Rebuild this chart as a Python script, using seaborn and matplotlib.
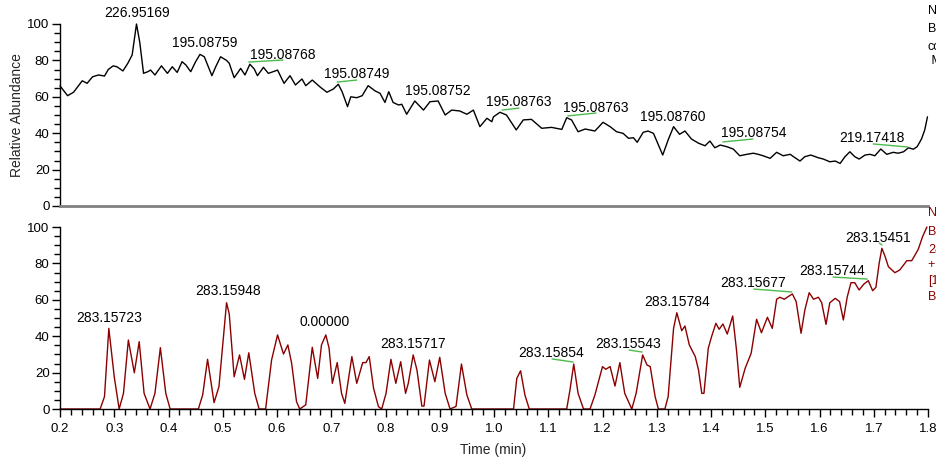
import numpy as np
import pandas as pd
import matplotlib
matplotlib.use("Agg")
import matplotlib.pyplot as plt
from matplotlib.ticker import MultipleLocator
import seaborn as sns

# ---------------- data ----------------
top_time = [0.200, 0.214, 0.225, 0.241, 0.250, 0.260, 0.271, 0.282, 0.289, 0.298,
            0.305, 0.316, 0.325, 0.333, 0.341, 0.347, 0.354, 0.362, 0.367, 0.375,
            0.387, 0.398, 0.407, 0.416, 0.425, 0.432, 0.441, 0.450, 0.458, 0.466,
            0.480, 0.487, 0.496, 0.507, 0.512, 0.521, 0.528, 0.533, 0.541, 0.550,
            0.558, 0.564, 0.575, 0.584, 0.593, 0.601, 0.613, 0.624, 0.634, 0.646,
            0.653, 0.665, 0.679, 0.692, 0.704, 0.713, 0.720, 0.730, 0.736, 0.747,
            0.757, 0.768, 0.781, 0.790, 0.799, 0.806, 0.814, 0.824, 0.830, 0.839,
            0.854, 0.870, 0.882, 0.897, 0.910, 0.922, 0.937, 0.950, 0.962, 0.974,
            0.987, 0.996, 0.999, 1.011, 1.023, 1.041, 1.054, 1.069, 1.088, 1.106,
            1.125, 1.134, 1.143, 1.155, 1.168, 1.186, 1.201, 1.214, 1.226, 1.238,
            1.248, 1.257, 1.264, 1.275, 1.284, 1.294, 1.311, 1.321, 1.331, 1.342,
            1.352, 1.364, 1.377, 1.389, 1.398, 1.407, 1.417, 1.429, 1.441, 1.453,
            1.466, 1.478, 1.487, 1.496, 1.509, 1.521, 1.533, 1.546, 1.552, 1.564,
            1.573, 1.584, 1.598, 1.607, 1.619, 1.629, 1.638, 1.647, 1.656, 1.665,
            1.673, 1.684, 1.693, 1.702, 1.713, 1.724, 1.736, 1.745, 1.755, 1.764,
            1.773, 1.780, 1.788, 1.794, 1.799]
top_abund = [66.0, 60.6, 62.5, 68.8, 67.4, 71.0, 72.0, 71.4, 75.0, 77.0,
             76.5, 74.2, 78.4, 83.0, 100.0, 90.0, 72.9, 73.8, 74.7, 72.0,
             77.0, 72.9, 76.5, 73.4, 79.3, 77.5, 73.8, 79.3, 83.3, 82.0,
             71.6, 76.5, 82.0, 80.0, 78.4, 70.5, 73.4, 75.6, 72.0, 77.9,
             75.3, 71.6, 76.2, 72.9, 73.8, 74.7, 67.4, 71.6, 66.5, 69.8,
             66.1, 69.2, 65.5, 62.5, 64.3, 66.9, 62.8, 54.6, 60.0, 59.5,
             60.6, 66.1, 63.2, 61.9, 56.9, 62.8, 56.9, 55.5, 55.9, 50.4,
             57.7, 52.7, 57.3, 57.7, 50.0, 52.7, 52.2, 50.4, 52.7, 43.6,
             48.2, 46.3, 49.0, 51.5, 50.0, 41.8, 47.3, 47.6, 42.7, 43.2,
             42.1, 48.5, 47.3, 40.8, 42.3, 41.2, 46.0, 43.6, 40.8, 39.9,
             37.2, 37.5, 35.0, 40.5, 41.2, 39.9, 28.0, 36.3, 43.6, 39.4,
             41.2, 36.8, 34.5, 33.1, 35.7, 32.0, 33.5, 32.6, 31.3, 27.6,
             28.4, 29.0, 28.4, 27.6, 26.2, 29.5, 27.6, 28.4, 27.1, 24.7,
             27.1, 28.0, 26.5, 25.8, 24.3, 24.7, 23.4, 27.1, 29.8, 27.1,
             25.8, 28.0, 28.4, 27.6, 31.3, 28.4, 29.5, 29.0, 29.8, 32.0,
             31.2, 32.6, 36.8, 41.8, 49.0]

bot_time = [0.200, 0.274, 0.282, 0.290, 0.300, 0.309, 0.317, 0.326, 0.337, 0.346,
            0.355, 0.366, 0.375, 0.385, 0.395, 0.403, 0.455, 0.463, 0.472, 0.484,
            0.493, 0.507, 0.512, 0.521, 0.531, 0.540, 0.548, 0.559, 0.567, 0.579,
            0.590, 0.601, 0.612, 0.620, 0.627, 0.636, 0.642, 0.653, 0.665, 0.675,
            0.682, 0.690, 0.696, 0.702, 0.711, 0.719, 0.725, 0.738, 0.747, 0.758,
            0.764, 0.770, 0.778, 0.787, 0.793, 0.801, 0.810, 0.819, 0.828, 0.837,
            0.842, 0.851, 0.858, 0.867, 0.871, 0.881, 0.891, 0.900, 0.910, 0.919,
            0.930, 0.940, 0.950, 0.959, 1.036, 1.042, 1.049, 1.057, 1.065, 1.134,
            1.140, 1.147, 1.155, 1.165, 1.177, 1.186, 1.200, 1.206, 1.214, 1.223,
            1.232, 1.241, 1.254, 1.262, 1.274, 1.282, 1.288, 1.297, 1.303, 1.315,
            1.321, 1.331, 1.337, 1.346, 1.352, 1.360, 1.371, 1.377, 1.383, 1.387,
            1.395, 1.401, 1.409, 1.415, 1.422, 1.430, 1.440, 1.447, 1.453, 1.463,
            1.474, 1.484, 1.493, 1.504, 1.513, 1.521, 1.527, 1.535, 1.542, 1.550,
            1.557, 1.566, 1.573, 1.581, 1.589, 1.598, 1.604, 1.612, 1.619, 1.629,
            1.637, 1.644, 1.651, 1.658, 1.665, 1.673, 1.682, 1.690, 1.698, 1.704,
            1.710, 1.715, 1.721, 1.727, 1.739, 1.748, 1.761, 1.770, 1.782, 1.790,
            1.798]
bot_abund = [0.0, 0.0, 6.8, 44.3, 17.7, 0.0, 8.6, 37.9, 19.9, 37.0,
             8.6, 0.0, 8.6, 33.7, 8.6, 0.0, 0.0, 7.7, 27.3, 3.5,
             12.3, 58.4, 52.2, 17.7, 29.7, 16.3, 30.9, 8.6, 0.0, 0.0,
             26.9, 40.7, 30.2, 35.2, 25.1, 4.0, 0.0, 2.3, 33.9, 16.8,
             35.2, 40.7, 33.4, 14.1, 25.5, 8.6, 3.1, 28.8, 14.1, 25.5,
             25.5, 28.8, 11.4, 1.3, 0.0, 8.6, 27.3, 14.1, 26.0, 8.6,
             14.1, 29.7, 21.4, 1.6, 1.6, 26.9, 15.0, 28.4, 8.6, 0.0,
             1.4, 24.7, 7.7, 0.0, 0.0, 16.8, 21.0, 7.7, 0.0, 0.0,
             10.4, 24.7, 8.6, 0.0, 0.0, 7.7, 23.3, 21.8, 23.3, 12.6,
             25.5, 8.6, 0.0, 8.6, 29.7, 24.2, 23.3, 6.8, 0.0, 0.0,
             6.8, 44.3, 52.9, 43.0, 45.6, 35.2, 28.8, 21.4, 8.6, 8.6,
             33.4, 39.7, 47.1, 43.8, 46.7, 41.2, 51.1, 32.4, 11.9, 22.4,
             30.6, 49.3, 41.9, 50.4, 44.3, 60.3, 61.4, 60.3, 61.7, 63.2,
             59.0, 41.6, 54.4, 63.9, 60.3, 61.4, 58.4, 46.5, 58.4, 60.8,
             59.0, 48.9, 61.4, 69.4, 69.4, 65.4, 68.7, 70.5, 65.0, 66.9,
             80.1, 88.3, 83.7, 78.2, 74.9, 76.4, 81.5, 81.5, 87.7, 94.7,
             100.0]

top_labels = ["226.95169", "195.08759", "195.08768", "195.08749", "195.08752",
              "195.08763", "195.08763", "195.08760", "195.08754", "219.17418"]
top_label_t = [0.342, 0.467, 0.611, 0.747, 0.897, 1.046, 1.188, 1.330, 1.479, 1.697]
top_label_v = [106.0, 89.6, 83.2, 72.5, 63.2, 57.1, 54.1, 48.9, 40.1, 37.1]
top_marks = [((0.548, 0.611), (79.1, 80.2)), ((0.711, 0.747), (68.1, 69.2)),
             ((1.015, 1.046), (52.7, 53.8)), ((1.136, 1.188), (49.5, 51.1)),
             ((1.422, 1.477), (35.2, 36.8)), ((1.699, 1.763), (34.1, 32.4))]

bot_labels = ["283.15723", "283.15948", "0.00000", "283.15717", "283.15854",
              "283.15543", "283.15784", "283.15677", "283.15744", "283.15451"]
bot_label_t = [0.290, 0.510, 0.688, 0.851, 1.105, 1.247, 1.337, 1.477, 1.623, 1.708]
bot_label_v = [50.0, 64.8, 47.8, 35.7, 30.8, 35.7, 58.8, 69.2, 75.8, 94.0]
bot_marks = [((1.107, 1.146), (27.5, 25.8)), ((1.249, 1.273), (32.4, 31.3)),
             ((1.479, 1.549), (65.9, 64.3)), ((1.625, 1.688), (72.5, 71.4)),
             ((1.710, 1.715), (91.2, 90.1))]

top_info = ["NL: 2.17E6", "Base Peak F: FTMS", "components", " MS  sample"]
bot_info = ["NL: 8.02E4", "Base Peak m/z=", "283.1500-283.1600", "+ c ESI Full ms",
            "[100.0000-1500.0000]", "Base Peak"]

x_ticks = [0.2, 0.3, 0.4, 0.5, 0.6, 0.7, 0.8, 0.9, 1.0, 1.1, 1.2, 1.3, 1.4, 1.5, 1.6, 1.7, 1.8]
y_ticks = [0, 20, 40, 60, 80, 100]

# ---------------- style ----------------
sns.set_theme(style="ticks")
plt.rcParams["font.family"] = ["Liberation Sans", "DejaVu Sans"]
plt.rcParams["axes.linewidth"] = 1.0

DARKRED = "#8b0000"
GREEN = "#4cbb4c"
W, H = 936, 463

fig = plt.figure(figsize=(W / 100, H / 100), dpi=100)
ax_top = fig.add_axes([60 / W, (H - 206) / H, 868 / W, 182 / H])
ax_bot = fig.add_axes([60 / W, (H - 409) / H, 868 / W, 182 / H])

df_top = pd.DataFrame({"t": top_time, "v": top_abund})
df_bot = pd.DataFrame({"t": bot_time, "v": bot_abund})
sns.lineplot(data=df_top, x="t", y="v", ax=ax_top, color="black", lw=1.0,
             estimator=None, sort=False)
sns.lineplot(data=df_bot, x="t", y="v", ax=ax_bot, color=DARKRED, lw=1.0,
             estimator=None, sort=False)
for ln in ax_top.lines + ax_bot.lines:
    ln.set_clip_on(False)

for ax in (ax_top, ax_bot):
    ax.set_xlim(0.2, 1.8)
    ax.set_ylim(0, 100)
    ax.set_yticks(y_ticks)
    ax.yaxis.set_minor_locator(MultipleLocator(5))
    ax.set_xlabel("")
    ax.set_ylabel("")
    for s in ("top", "right"):
        ax.spines[s].set_visible(False)
    ax.spines["left"].set_color("black")
    ax.tick_params(axis="y", which="major", direction="out", length=6, width=1,
                   labelsize=9.5, pad=1.5, colors="black")
    ax.tick_params(axis="y", which="minor", direction="out", length=4, width=1,
                   colors="black")
    ax.patch.set_alpha(0)

# top panel bottom: grey line, no ticks
ax_top.spines["bottom"].set_color("#808080")
ax_top.spines["bottom"].set_linewidth(2)
ax_top.set_xticks([])
ax_top.tick_params(axis="x", which="both", length=0)

# bottom panel x axis
ax_bot.spines["bottom"].set_color("black")
ax_bot.set_xticks(x_ticks)
ax_bot.set_xticklabels([f"{v:.1f}" for v in x_ticks])
ax_bot.xaxis.set_minor_locator(MultipleLocator(0.02))
ax_bot.tick_params(axis="x", which="major", direction="out", length=6, width=1,
                   labelsize=9.5, pad=4, colors="black")
ax_bot.tick_params(axis="x", which="minor", direction="out", length=4, width=1,
                   colors="black")

# annotations
for lab, t, v in zip(top_labels, top_label_t, top_label_v):
    ax_top.text(t, v, lab, ha="center", va="center", fontsize=10, color="black",
                clip_on=False)
for (tt, vv) in top_marks:
    ax_top.plot(tt, vv, color=GREEN, lw=1.0, clip_on=False)
for lab, t, v in zip(bot_labels, bot_label_t, bot_label_v):
    ax_bot.text(t, v, lab, ha="center", va="center", fontsize=10, color="black",
                clip_on=False)
for (tt, vv) in bot_marks:
    ax_bot.plot(tt, vv, color=GREEN, lw=1.0, clip_on=False)

# axis titles
fig.text(17 / W, 1 - 115 / H, "Relative Abundance", rotation=90, ha="center",
         va="center", fontsize=10)
fig.text(493 / W, 1 - 450 / H, "Time (min)", ha="center", va="center", fontsize=10)

# clipped info blocks at right edge
top_y = [11, 29, 47, 61]
for s, yy in zip(top_info, top_y):
    fig.text(928 / W, 1 - yy / H, s, ha="left", va="center", fontsize=9,
             color="black")
bot_y = [213, 232, 250, 265, 281, 297]
for s, yy in zip(bot_info, bot_y):
    fig.text(928 / W, 1 - yy / H, s, ha="left", va="center", fontsize=9,
             color=DARKRED)

fig.savefig("out.png", dpi=100)
